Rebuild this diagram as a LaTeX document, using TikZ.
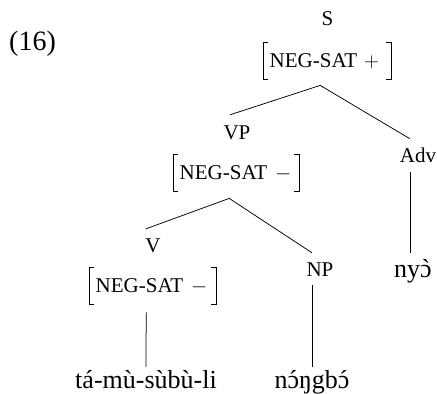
\documentclass[tikz,border=0pt]{standalone}
\usepackage{fontspec}
\usepackage{graphicx}
\setmainfont{Liberation Serif}
\newcommand\featbr[1]{%
  \draw[brk] ([xshift=5pt]#1.north west) -- (#1.north west) -- (#1.south west) -- ([xshift=5pt]#1.south west);
  \draw[brk] ([xshift=-5pt]#1.north east) -- (#1.north east) -- (#1.south east) -- ([xshift=-5pt]#1.south east);}
\newcommand\acuteon[1]{{\ooalign{#1\cr\hidewidth´\hidewidth\cr}}}
\newcommand\graveon[1]{{\ooalign{#1\cr\hidewidth\reflectbox{´}\hidewidth\cr}}}
\begin{document}
\begin{tikzpicture}[x=1pt,y=-1pt,
  lab/.style={anchor=base,inner sep=0pt,text height=14pt,text depth=0pt,font=\fontsize{21}{24}\selectfont},
  word/.style={anchor=base,inner sep=0pt,text height=21pt,text depth=0pt,font=\fontsize{26}{30}\selectfont},
  feat/.style={anchor=north west,inner sep=0pt,text height=25pt,text depth=12pt,align=left,font=\fontsize{21}{24}\selectfont},
  brk/.style={line width=0.7pt},
  edge/.style={line width=0.75pt}]
\useasboundingbox (0,0) rectangle (437,394);

\node[anchor=base west,inner sep=0pt,font=\fontsize{28}{32}\selectfont] (ex) at (9,50) {(16)};

\node[lab] (s) at (327.5,25) {S};
\node[feat,text width=128pt] (sf) at (263,42) {\hspace*{6.5pt}NEG-SAT\hspace{7pt}$+$};
\featbr{sf}

\node[lab] (vp) at (237,139.5) {VP};
\node[feat,text width=126pt] (vpf) at (173,154) {\hspace*{6.5pt}NEG-SAT\hspace{8pt}$-$};
\featbr{vpf}

\node[lab] (adv) at (418,162) {Adv};

\node[lab] (v) at (153,252) {V};
\node[feat,text width=127pt] (vf) at (89,267) {\hspace*{6.5pt}NEG-SAT\hspace{8pt}$-$};
\featbr{vf}

\node[lab] (np) at (320,276) {NP};

\node[word] (w1) at (146,388) {tá-mù-sùbù-li};
\node[word] (w2) at (312,388) {n\acuteon{ɔ}ŋgb\acuteon{ɔ}};
\node[word] (w3) at (413,277) {ny\graveon{ɔ}};

\draw[edge] ([xshift=-7pt,yshift=10.5pt]vp.north) -- ([xshift=-7pt,yshift=-6pt]sf.south) -- ([xshift=-8pt,yshift=9pt]adv.north);
\draw[edge] ([xshift=-8pt,yshift=-10pt]adv.south) -- ([xshift=-3pt,yshift=3pt]w3.north);
\draw[edge] ([xshift=-7pt,yshift=9pt]v.north) -- ([xshift=-7pt,yshift=-7pt]vpf.south) -- ([xshift=-8pt,yshift=9pt]np.north);
\draw[edge] ([xshift=-6.5pt,yshift=-8pt]vf.south) -- (w1.north);
\draw[edge] ([xshift=-8pt,yshift=-9pt]np.south) -- (w2.north);
\end{tikzpicture}
\end{document}
